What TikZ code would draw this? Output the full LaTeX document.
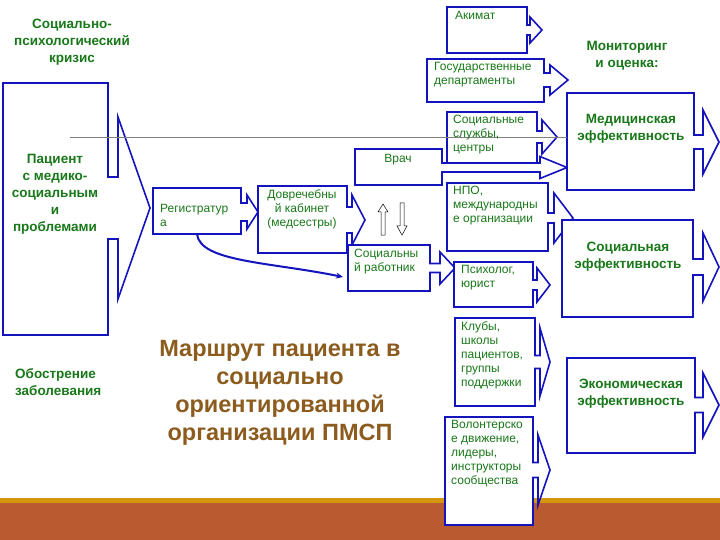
\documentclass[tikz,border=0pt]{standalone}
\usepackage{fontspec}
\usetikzlibrary{arrows.meta}
\setmainfont{Liberation Sans}
\definecolor{bl}{RGB}{20,20,190}
\definecolor{gr}{RGB}{25,120,25}
\definecolor{tb}{RGB}{140,92,30}
\definecolor{stripe}{RGB}{214,150,10}
\definecolor{brn}{RGB}{186,90,48}
\newcommand\callbox[9]{%
 \draw[cal] (#1,#2)--(#3,#2)--(#3,#5-#6)--(#8,#5-#6)--(#8,#5-#7)--(#9,#5)--(#8,#5+#7)--(#8,#5+#6)--(#3,#5+#6)--(#3,#4)--(#1,#4)--cycle;}
\begin{document}
\begin{tikzpicture}[x=1pt,y=-1pt,
 cal/.style={draw=bl,line width=1.6pt,fill=white,line join=miter},
 sm/.style={text=gr,font=\fontsize{12}{14}\selectfont,align=left,inner sep=0pt},
 bd/.style={text=gr,font=\fontsize{13.5}{17}\selectfont\bfseries,align=center,inner sep=0pt},
 oarr/.style={draw=black,line width=0.5pt,fill=white}]
\useasboundingbox (0,0) rectangle (720,540);
\fill[white] (0,0) rectangle (720,540);
% left
\callbox{3}{83}{108}{335}{208}{31}{91}{118}{150}
\callbox{153}{188}{241}{234}{212}{9}{17}{247}{258}
\callbox{258}{186}{347}{253}{220}{13}{25}{352}{365}
\callbox{355}{149}{442}{185}{167.5}{4.5}{11}{540}{567}
\callbox{348}{245}{430}{291}{268}{4.5}{16}{440}{455}
% right column
\callbox{447}{7}{527}{53}{30}{5}{13}{530}{542}
\callbox{427}{59}{544}{102}{80}{7}{15}{550}{568}
\callbox{447}{112}{537}{163}{137}{6}{17}{542}{557}
\callbox{447}{183}{548}{251}{218}{5}{25}{554}{573}
\callbox{454}{262}{533}{307}{285}{5}{17}{537}{550}
\callbox{455}{318}{535}{406}{362}{6.5}{34}{540}{550}
\callbox{567}{93}{694}{190}{142}{7}{32}{703}{719}
\callbox{562}{220}{693}{317}{267}{8}{34}{703}{719}
\callbox{567}{358}{695}{453}{405}{7.5}{32}{703}{719}
% bottom bar
\fill[stripe] (0,498) rectangle (720,503);
\fill[brn] (0,503) rectangle (720,540);
\callbox{445}{417}{533}{525}{470}{7.5}{35}{538}{550}
\draw[gray,line width=0.6pt] (70,137) -- (567,137);
% small arrows
\draw[oarr] (381,235)--(381,212)--(378,212)--(383,204)--(388,212)--(385,212)--(385,235)--cycle;
\draw[oarr] (400,203)--(400,226)--(397,226)--(402,235)--(407,226)--(404,226)--(404,203)--cycle;
% curved arrow
\coordinate (c1) at (197,234);
\coordinate (c2) at (343,277);
\draw[draw=bl,line width=2pt,-{Stealth[length=7pt,width=6pt]}] (c1) .. controls (200,262) and (270,262) .. (c2);
% texts
\node[sm,anchor=north west] (t1) at (455,11) {Акимат};
\node[sm,anchor=north west] (t2) at (434,62) {Государственные\\департаменты};
\node[sm,anchor=north west] (t3) at (453,115) {Социальные\\службы,\\центры};
\node[sm,anchor=north west] (t4) at (453,186) {НПО,\\международны\\е организации};
\node[sm,anchor=north west] (t5) at (461,265) {Психолог,\\юрист};
\node[sm,anchor=north west] (t6) at (461,321) {Клубы,\\школы\\пациентов,\\группы\\поддержки};
\node[sm,anchor=north west] (t7) at (451,420) {Волонтерско\\е движение,\\лидеры,\\инструкторы\\сообщества};
\node[sm,anchor=north west] (t8) at (160,204) {Регистратур\\а};
\node[sm,anchor=north,align=center] (t9) at (302,189) {Довречебны\\й кабинет\\(медсестры)};
\node[sm,anchor=north] (t10) at (398,154) {Врач};
\node[sm,anchor=north west] (t11) at (354,249) {Социальны\\й работник};
\node[bd,anchor=north] (b1) at (72,19) {Социально-\\психологический\\кризис};
\node[bd,anchor=north] (b2) at (55,154) {Пациент\\с медико-\\социальным\\и\\проблемами};
\node[bd,anchor=north west,align=left] (b3) at (15,368) {Обострение\\заболевания};
\node[bd,anchor=north] (b4) at (627,41) {Мониторинг\\и оценка:};
\node[bd,anchor=north] (b5) at (631,114) {Медицинская\\эффективность};
\node[bd,anchor=north] (b6) at (628,242) {Социальная\\эффективность};
\node[bd,anchor=north] (b7) at (631,379) {Экономическая\\эффективность};
\node[text=tb,font=\fontsize{23.5}{28}\selectfont\bfseries,align=center,inner sep=0pt,anchor=north] (title) at (280,340) {Маршрут пациента в\\социально\\ориентированной\\организации ПМСП};
\end{tikzpicture}
\end{document}
